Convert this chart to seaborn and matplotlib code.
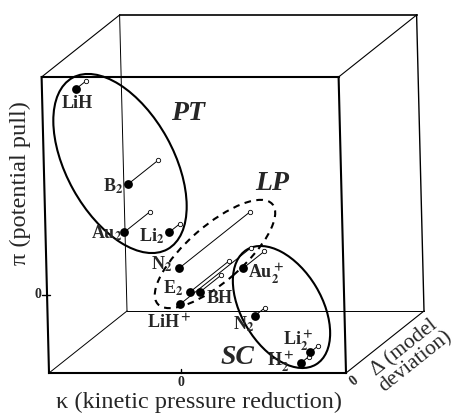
import matplotlib
matplotlib.use('Agg')
import matplotlib.pyplot as plt
from matplotlib.patches import Ellipse
import numpy as np
import pandas as pd
import seaborn as sns

# molecules placed in (kappa, pi, delta) space
labels = ['LiH', r'B$_2$', r'Au$_2$', r'Li$_2$', r'N$_2$', r'E$_2$', 'BH',
          r'LiH$^+$', r'Au$_2^+$', r'N$_2$', r'Li$_2^+$', r'H$_2^+$']
kappa = [-0.98, -0.48, -0.53, -0.08, 0.01, 0.11, 0.21, 0.01, 0.65, 0.75, 1.30, 1.20]
pi_ = [2.06, 1.11, 0.63, 0.63, 0.27, 0.03, 0.03, -0.09, 0.27, -0.21, -0.57, -0.68]
delta = [0.13, 0.38, 0.33, 0.13, 0.91, 0.50, 0.27, 0.91, 0.27, 0.13, 0.10, 0.10]

# bonding classes
groups = ['PT', 'LP', 'SC']

# box extent
k_lim = (-1.32, 1.65)
p_lim = (-0.78, 2.18)
d_lim = (0.0, 1.0)

# oblique projection of the 3d box onto the page
DX, DY, SHEAR = 0.78, 0.62, 0.025


def project(k, p, d):
    k, p, d = np.asarray(k, float), np.asarray(p, float), np.asarray(d, float)
    return k - SHEAR * (p - p_lim[0]) + DX * d, p + DY * d


sns.set_style('white')
plt.rcParams['font.family'] = ['Liberation Serif', 'DejaVu Serif']
plt.rcParams['mathtext.fontset'] = 'stix'
plt.rcParams['mathtext.default'] = 'bf'

fig = plt.figure(figsize=(4.6, 4.13), dpi=100)
ax = fig.add_axes([0, 0, 1, 1])
ax.set_xlim(-1.81, 2.79)
ax.set_ylim(-1.18, 2.95)
ax.axis('off')

# box edges
k0, k1 = k_lim
p0, p1 = p_lim
d0, d1 = d_lim
edges = [
    # front face
    ((k0, p0, d0), (k1, p0, d0), 1.5), ((k1, p0, d0), (k1, p1, d0), 1.5),
    ((k1, p1, d0), (k0, p1, d0), 1.5), ((k0, p1, d0), (k0, p0, d0), 1.5),
    # back face
    ((k0, p1, d1), (k1, p1, d1), 1.2), ((k1, p1, d1), (k1, p0, d1), 1.0),
    ((k1, p0, d1), (k0, p0, d1), 0.7), ((k0, p0, d1), (k0, p1, d1), 0.7),
    # depth edges
    ((k0, p0, d0), (k0, p0, d1), 0.7), ((k1, p0, d0), (k1, p0, d1), 0.8),
    ((k0, p1, d0), (k0, p1, d1), 0.8), ((k1, p1, d0), (k1, p1, d1), 0.8),
]
for a, b, lw in edges:
    xa, ya = project(*a)
    xb, yb = project(*b)
    ax.plot([xa, xb], [ya, yb], color='black', lw=lw, solid_capstyle='projecting', zorder=1)

# ticks at zero
tx, ty = project(0, p0, 0)
ax.plot([tx, tx], [ty, ty + 0.04], color='black', lw=1.0)
ax.annotate('0', (tx, ty), xytext=(0, -10), textcoords='offset pixels',
            ha='center', va='center', fontsize=10, fontweight='bold')
tx, ty = project(k0, 0, 0)
ax.plot([tx - 0.05, tx + 0.03], [ty, ty], color='black', lw=1.0)
ax.annotate('0', (tx, ty), xytext=(-6, 0), textcoords='offset pixels',
            ha='right', va='center', fontsize=10, fontweight='bold')
tx, ty = project(k1, p0, 0)
ax.annotate('0', (tx, ty), xytext=(8, -8), textcoords='offset pixels',
            ha='center', va='center', fontsize=10, fontweight='bold', rotation=38.5)

# axis titles
x, y = project(0.18, p0, 0)
ax.annotate('κ (kinetic pressure reduction)', (x, y), xytext=(0, -29),
            textcoords='offset pixels', ha='center', va='center', fontsize=17.5)
x, y = project(k0, 0, 0)
ax.annotate('π (potential pull)', (x, y), xytext=(-27, 112),
            textcoords='offset pixels', ha='center', va='center', fontsize=17.5, rotation=90)
x, y = project(k1, p0, 0)
ax.annotate('Δ (model\ndeviation)', (x, y), xytext=(64, 18),
            textcoords='offset pixels', ha='center', va='center', fontsize=15.5,
            rotation=38.5, rotation_mode='anchor', multialignment='center',
            linespacing=0.9)

# class ellipses (page coordinates)
ell_xy = [(-0.61, 1.315), (0.34, 0.41), (1.005, -0.12)]
ell_w = [1.96, 1.52, 1.34]
ell_h = [1.07, 0.56, 0.80]
ell_ang = [119, 41, 121]
ell_ls = ['-', (0, (3.2, 2.6)), '-']
for xy, w, h, a, ls in zip(ell_xy, ell_w, ell_h, ell_ang, ell_ls):
    ax.add_patch(Ellipse(xy, w, h, angle=a, fill=False, ec='black', lw=1.5, ls=ls, zorder=2))

group_xy = [(0.07, 1.82), (0.91, 1.12), (0.56, -0.62)]
for g, (gx, gy) in zip(groups, group_xy):
    ax.text(gx, gy, g, ha='center', va='center', fontsize=20,
            fontweight='bold', style='italic')

# points: filled at delta=0, open at measured delta
fx, fy = project(kappa, pi_, np.zeros(len(kappa)))
ox, oy = project(kappa, pi_, delta)
df = pd.DataFrame({'label': labels, 'fx': fx, 'fy': fy, 'ox': ox, 'oy': oy})

for _, r in df.iterrows():
    ax.plot([r.fx, r.ox], [r.fy, r.oy], color='black', lw=0.7, zorder=3)
sns.scatterplot(data=df, x='ox', y='oy', s=10, color='white', edgecolor='black',
                linewidth=0.6, ax=ax, zorder=4, legend=False)
sns.scatterplot(data=df, x='fx', y='fy', s=40, color='black', edgecolor='black',
                linewidth=0, ax=ax, zorder=5, legend=False)

lab_off = [(1, -19), (-5, -7), (-2, -6), (-5, -9), (-7, -1), (-7, -1), (7, -11),
           (-11, -24), (5, -11), (0, -13), (2, 6), (-7, -4)]
lab_ha = ['center', 'right', 'right', 'right', 'right', 'right', 'left',
          'center', 'left', 'right', 'right', 'right']
for (_, r), off, ha in zip(df.iterrows(), lab_off, lab_ha):
    ax.annotate(r.label, (r.fx, r.fy), xytext=off, textcoords='offset pixels',
                ha=ha, va='baseline', fontsize=13, fontweight='bold', zorder=6)

fig.savefig('out.png', dpi=100)
